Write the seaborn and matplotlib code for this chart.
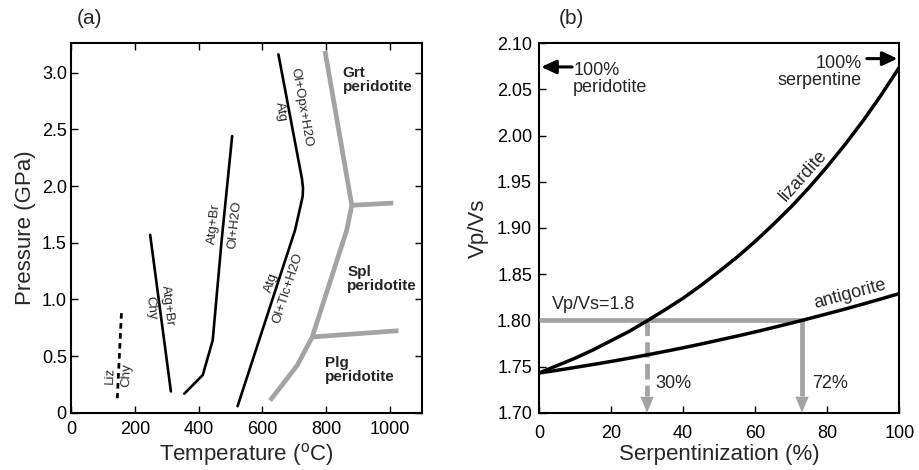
import numpy as np
import pandas as pd
import matplotlib
matplotlib.use("Agg")
import matplotlib.pyplot as plt
import seaborn as sns

# ---------------- data: panel (a) ----------------
T_liz_chy = [158, 145]
P_liz_chy = [0.88, 0.13]
T_chy_atg = [248, 313]
P_chy_atg = [1.57, 0.19]
T_atg_br = [355, 413, 444, 472, 505]
P_atg_br = [0.17, 0.335, 0.64, 1.52, 2.44]
T_atg_out = [522, 702, 719, 726, 727, 724, 650]
P_atg_out = [0.06, 1.61, 1.82, 1.91, 1.98, 2.06, 3.16]
T_facies = [624, 709, 756, 864, 880, 796]
P_facies = [0.11, 0.42, 0.67, 1.61, 1.83, 3.19]
T_grt_spl = [880, 1010]
P_grt_spl = [1.83, 1.85]
T_spl_plg = [756, 1026]
P_spl_plg = [0.67, 0.725]

# ---------------- data: panel (b) ----------------
serp = [0, 5, 10, 15, 20, 25, 30, 35, 40, 45, 50, 55, 60, 65, 70, 75, 80, 85, 90, 95, 100]
lizardite = [1.743, 1.751, 1.759, 1.768, 1.778, 1.788, 1.7995, 1.8115, 1.824, 1.838,
             1.853, 1.8686, 1.8855, 1.9038, 1.923, 1.944, 1.9666, 1.9907, 2.0164, 2.0442, 2.074]
antigorite = [1.743, 1.7459, 1.749, 1.7522, 1.7555, 1.759, 1.7626, 1.7664, 1.7703, 1.7744,
              1.7787, 1.783, 1.7875, 1.7922, 1.797, 1.802, 1.8071, 1.8123, 1.8177, 1.8233, 1.829]
vpvs_level = 1.8
serp_liz_cross = 30
serp_ant_cross = 73
label_liz = "30%"
label_ant = "72%"

sns.set_style("ticks")
plt.rcParams['font.family'] = ['Liberation Sans', 'DejaVu Sans']
plt.rcParams['mathtext.fontset'] = 'custom'
plt.rcParams['mathtext.rm'] = 'Liberation Sans'
plt.rcParams['mathtext.default'] = 'regular'
plt.rcParams['axes.linewidth'] = 1.5

GRAY = '#a3a3a3'
fig = plt.figure(figsize=(9.2, 4.7), dpi=100)
axA = fig.add_axes([0.0772, 0.1213, 0.3815, 0.7872])
axB = fig.add_axes([0.5859, 0.1219, 0.3916, 0.786])


def pl(ax, x, y, **kw):
    sns.lineplot(x=x, y=y, ax=ax, sort=False, estimator=None, errorbar=None, **kw)


# ---------------- panel (a) ----------------
pl(axA, T_liz_chy, P_liz_chy, color='black', linewidth=2.0, linestyle=(0, (2.0, 1.6)))
pl(axA, T_chy_atg, P_chy_atg, color='black', linewidth=1.9)
pl(axA, T_atg_br, P_atg_br, color='black', linewidth=1.9)
pl(axA, T_atg_out, P_atg_out, color='black', linewidth=1.9)
for tx, py in [(T_facies, P_facies), (T_grt_spl, P_grt_spl), (T_spl_plg, P_spl_plg)]:
    pl(axA, tx, py, color=GRAY, linewidth=3.4, solid_capstyle='butt', solid_joinstyle='miter')

axA.set_xlim(0, 1100)
axA.set_ylim(0, 3.26)
axA.set_xticks([0, 200, 400, 600, 800, 1000])
axA.set_yticks([0, 0.5, 1.0, 1.5, 2.0, 2.5, 3.0])
axA.set_yticklabels(['0', '0.5', '1.0', '1.5', '2.0', '2.5', '3.0'])
axA.tick_params(direction='in', top=True, right=True, length=5, width=1.0,
                labelsize=13, colors='black')
axA.tick_params(axis='x', pad=6)
axA.tick_params(axis='y', pad=3)
axA.set_xlabel(r"Temperature ($^{o}$C)", fontsize=16, labelpad=2)
axA.set_ylabel("Pressure (GPa)", fontsize=16, labelpad=4)

fs_small = 9.5
kw_small = dict(fontsize=fs_small, ha='center', va='center', rotation_mode='anchor')
axA.text(122, 0.33, 'Liz', rotation=88, **kw_small)
axA.text(174, 0.335, 'Chy', rotation=88, **kw_small)
axA.text(250, 0.93, 'Chy', rotation=-83, **kw_small)
axA.text(302, 0.95, 'Atg+Br', rotation=-83, **kw_small)
axA.text(448, 1.665, 'Atg+Br', rotation=84, **kw_small)
axA.text(514, 1.656, 'Ol+H2O', rotation=84, **kw_small)
axA.text(657, 2.655, 'Atg', rotation=-80, **kw_small)
axA.text(722, 2.69, 'Ol+Opx+H2O', rotation=-80, **kw_small)
axA.text(629, 1.151, 'Atg', rotation=72, **kw_small)
axA.text(679, 1.099, 'Ol+Tlc+H2O', rotation=72, **kw_small)

kw_bold = dict(fontsize=11, fontweight='bold', ha='left', va='top', linespacing=1.0)
axA.text(851, 3.06, 'Grt\nperidotite', **kw_bold)
axA.text(866, 1.30, 'Spl\nperidotite', **kw_bold)
axA.text(796, 0.505, 'Plg\nperidotite', **kw_bold)

# ---------------- panel (b) ----------------
df = pd.DataFrame({'serp': serp, 'liz': lizardite, 'ant': antigorite})
sns.lineplot(data=df, x='serp', y='liz', ax=axB, color='black', linewidth=2.5, zorder=4)
sns.lineplot(data=df, x='serp', y='ant', ax=axB, color='black', linewidth=2.5, zorder=4)

# horizontal threshold line
pl(axB, [0, serp_ant_cross], [vpvs_level, vpvs_level], color=GRAY,
   linewidth=3.4, zorder=3, solid_capstyle='butt')
# vertical drop lines
head_len = 0.0185
pl(axB, [serp_liz_cross, serp_liz_cross], [vpvs_level, 1.70 + head_len],
   color=GRAY, linewidth=3.4, linestyle=(0, (3.3, 1.3)), zorder=3)
pl(axB, [serp_ant_cross, serp_ant_cross], [vpvs_level, 1.70 + head_len],
   color=GRAY, linewidth=3.4, zorder=3, solid_capstyle='butt')
for xc in [serp_liz_cross, serp_ant_cross]:
    axB.annotate('', xy=(xc, 1.70), xytext=(xc, 1.70 + head_len + 0.002),
                 arrowprops=dict(arrowstyle='-|>,head_length=11.5,head_width=4.8',
                                 mutation_scale=1, color=GRAY, lw=0, shrinkA=0, shrinkB=0),
                 zorder=3, annotation_clip=False)

# black arrows at top
axB.annotate('', xy=(0.6, 2.0744), xytext=(9.2, 2.0744),
             arrowprops=dict(arrowstyle='-|>,head_length=9,head_width=4.2', mutation_scale=1,
                             color='black', lw=2.2, shrinkA=0, shrinkB=0))
axB.annotate('', xy=(99.5, 2.0834), xytext=(91.0, 2.0834),
             arrowprops=dict(arrowstyle='-|>,head_length=9,head_width=4.2', mutation_scale=1,
                             color='black', lw=2.2, shrinkA=0, shrinkB=0))

axB.text(9.5, 2.061, '100%\nperidotite', fontsize=13, ha='left', va='center', linespacing=1.0)
axB.text(89.6, 2.0685, '100%\nserpentine', fontsize=13, ha='right', va='center',
         multialignment='right', linespacing=1.0)
axB.text(3.5, 1.8168, 'Vp/Vs=1.8', fontsize=13, ha='left', va='center')
axB.text(32.2, 1.732, label_liz, fontsize=13, ha='left', va='center')
axB.text(75.7, 1.732, label_ant, fontsize=13, ha='left', va='center')
axB.text(86.4, 1.8285, 'antigorite', fontsize=13, ha='center', va='center',
         rotation=15, rotation_mode='anchor')
axB.text(73.4, 1.957, 'lizardite', fontsize=13, ha='center', va='center',
         rotation=48, rotation_mode='anchor')

axB.set_xlim(0, 100)
axB.set_ylim(1.70, 2.10)
axB.set_xticks([0, 20, 40, 60, 80, 100])
yt = [1.70, 1.75, 1.80, 1.85, 1.90, 1.95, 2.00, 2.05, 2.10]
axB.set_yticks(yt)
axB.set_yticklabels([f"{v:.2f}" for v in yt])
axB.tick_params(direction='in', length=5, width=1.0, labelsize=13, colors='black')
axB.tick_params(axis='x', pad=9)
axB.tick_params(axis='y', pad=5)
axB.set_xlabel("Serpentinization (%)", fontsize=16, labelpad=1)
axB.set_ylabel("Vp/Vs", fontsize=16, labelpad=6)

for ax in (axA, axB):
    for s in ax.spines.values():
        s.set_visible(True)
        s.set_color('black')
        s.set_linewidth(1.5)

fig.text(90 / 920, 1 - 18 / 470, '(a)', fontsize=15, ha='center', va='center')
fig.text(571 / 920, 1 - 18 / 470, '(b)', fontsize=15, ha='center', va='center')

fig.savefig('out.png', dpi=100)
